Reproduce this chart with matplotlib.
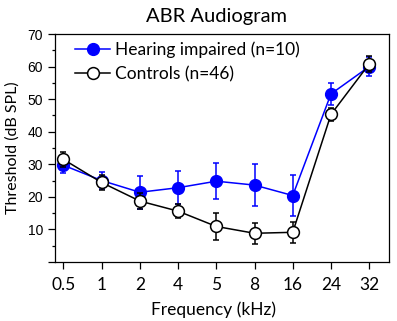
import matplotlib
matplotlib.use("Agg")
import matplotlib.pyplot as plt
from matplotlib.lines import Line2D
import numpy as np

freq_labels = ["0.5", "1", "2", "4", "5", "8", "16", "24", "32"]
impaired_mean = [29.7, 25.0, 21.4, 22.8, 24.8, 23.6, 20.4, 51.6, 60.0]
impaired_err = [2.5, 2.5, 5.0, 5.0, 5.5, 6.4, 6.4, 3.5, 3.0]
control_mean = [31.5, 24.4, 18.7, 15.6, 10.9, 8.8, 9.1, 45.3, 60.8]
control_err = [2.3, 2.4, 2.5, 2.2, 4.2, 3.2, 3.3, 2.0, 2.5]
y_ticks = [10, 20, 30, 40, 50, 60, 70]

fig = plt.figure(figsize=(3.97, 3.21), dpi=100)
ax = fig.add_axes([0.1385, 0.184, 0.8415, 0.710])

x = np.arange(len(freq_labels))
ax.errorbar(x, impaired_mean, yerr=impaired_err, fmt='-o', color='#0000ff',
            ecolor='#0000ff', markerfacecolor='#0000ff', markeredgecolor='#0000ff',
            markersize=8.5, linewidth=1.1, elinewidth=1.1, capsize=2.5, capthick=1.1,
            zorder=3)
ax.errorbar(x, control_mean, yerr=control_err, fmt='-o', color='black',
            ecolor='black', markerfacecolor='white', markeredgecolor='black',
            markersize=8.5, linewidth=1.1, elinewidth=1.1, capsize=2.5, capthick=1.1,
            markeredgewidth=1.1, zorder=4)

ax.set_xlim(-0.22, 8.52)
ax.set_ylim(0, 70)
ax.set_xticks(x)
ax.set_xticklabels(freq_labels, fontfamily='Lato', fontsize=12.5)
ax.set_yticks([0] + y_ticks)
ax.set_yticklabels([""] + [str(v) for v in y_ticks], fontfamily='Liberation Sans', fontsize=10)
ax.set_yticks(np.arange(5, 70, 10), minor=True)
ax.tick_params(axis='both', which='major', direction='out', length=5, width=0.9)
ax.tick_params(axis='y', which='minor', direction='out', length=2.5, width=0.9)
ax.tick_params(axis='x', which='major', pad=6)
for s in ax.spines.values():
    s.set_linewidth(0.9)

ax.set_title('ABR Audiogram', fontfamily='Lato', fontsize=14.5, pad=9, x=0.482)
ax.set_xlabel('Frequency (kHz)', fontfamily='Lato', fontsize=12.5, labelpad=6, x=0.475)
ax.set_ylabel('Threshold (dB SPL)', fontfamily='Lato', fontsize=11.5, labelpad=6)

handles = [
    Line2D([], [], color='#0000ff', marker='o', markersize=8.5, markerfacecolor='#0000ff',
           markeredgecolor='#0000ff', linewidth=1.1),
    Line2D([], [], color='black', marker='o', markersize=8.5, markerfacecolor='white',
           markeredgecolor='black', markeredgewidth=1.1, linewidth=1.1),
]
leg = ax.legend(handles, ['Hearing impaired (n=10)', 'Controls (n=46)'],
                loc='upper left', bbox_to_anchor=(0.025, 1.02), frameon=False,
                prop={'family': 'Lato', 'size': 12.5}, handlelength=2.0,
                handletextpad=0.25, labelspacing=0.45, borderaxespad=0.4,
                borderpad=0.3)

fig.savefig('out.png', dpi=100)
